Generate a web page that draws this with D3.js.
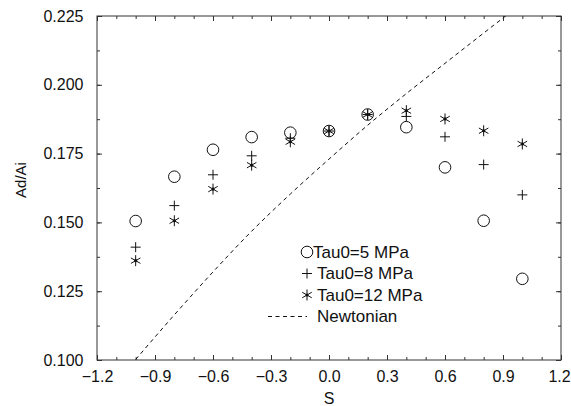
<!DOCTYPE html>
<meta charset="utf-8">
<script src="https://d3js.org/d3.v7.min.js"></script>
<style type="text/css">
body { margin: 0; background: #fff; }
svg { display: block; font-family: "Liberation Sans", Arial, sans-serif; }
.axis text { font-size: 16px; fill: #111; }
.axis line { stroke: #333; stroke-width: 1; }
.axis .domain { display: none; }
</style>
<body></body>
<script>

// data
var sValues   = [-1.0, -0.8, -0.6, -0.4, -0.2, 0.0, 0.2, 0.4, 0.6, 0.8, 1.0];
var tau5      = [0.1505, 0.1666, 0.1764, 0.1810, 0.1826, 0.1832, 0.1892, 0.1846, 0.1700, 0.1506, 0.1295];
var tau8      = [0.1410, 0.1561, 0.1673, 0.1742, 0.1806, 0.1832, 0.1892, 0.1885, 0.1811, 0.1710, 0.1600];
var tau12     = [0.1361, 0.1506, 0.1621, 0.1708, 0.1793, 0.1832, 0.1892, 0.1906, 0.1876, 0.1833, 0.1785];
var newtonian = [0.1002, 0.1164, 0.1320, 0.1468, 0.1603, 0.1730, 0.1853, 0.1968, 0.2078, 0.2188, 0.2297];

var xTicks = [-1.2, -0.9, -0.6, -0.3, 0.0, 0.3, 0.6, 0.9, 1.2];
var yTicks = [0.100, 0.125, 0.150, 0.175, 0.200, 0.225];
var legendLabels = ["Tau0=5 MPa", "Tau0=8 MPa", "Tau0=12 MPa", "Newtonian"];

var margin = {top: 16, right: 10, bottom: 46, left: 97};
var width = 571 - margin.left - margin.right,
    height = 406 - margin.top - margin.bottom;

var svgRoot = d3.select("body").append("svg")
    .attr("width", 571)
    .attr("height", 406);

var svg = svgRoot.append("g")
    .attr("transform", `translate(${margin.left}, ${margin.top})`);

var xScale = d3.scaleLinear().domain([-1.2, 1.2]).range([0, width]);
var yScale = d3.scaleLinear().domain([0.100, 0.225]).range([height, 0]);

var xMinor = d3.range(-12, 13).map(d => d / 10);
var yMinor = d3.range(0, 11).map(d => 0.100 + d * 0.0125);

// minor ticks on all four sides
svg.append("g").attr("class", "axis")
  .attr("transform", `translate(0,${height})`)
  .call(d3.axisBottom(xScale).tickValues(xMinor).tickSize(-3).tickSizeOuter(0).tickFormat(""));
svg.append("g").attr("class", "axis")
  .call(d3.axisTop(xScale).tickValues(xMinor).tickSize(-3).tickSizeOuter(0).tickFormat(""));
svg.append("g").attr("class", "axis")
  .call(d3.axisLeft(yScale).tickValues(yMinor).tickSize(-3).tickSizeOuter(0).tickFormat(""));
svg.append("g").attr("class", "axis")
  .attr("transform", `translate(${width},0)`)
  .call(d3.axisRight(yScale).tickValues(yMinor).tickSize(-3).tickSizeOuter(0).tickFormat(""));

// major ticks with labels
var xAxisGroup = svg.append("g").attr("class", "axis")
  .attr("transform", `translate(0,${height})`)
  .call(d3.axisBottom(xScale).tickValues(xTicks).tickSize(-5).tickSizeOuter(0)
    .tickPadding(10.5).tickFormat(d3.format(".1f")));
// keep the last label inside the window
xAxisGroup.selectAll(".tick text").filter(d => d === 1.2).attr("dx", -2);

svg.append("g").attr("class", "axis")
  .call(d3.axisLeft(yScale).tickValues(yTicks).tickSize(-5).tickSizeOuter(0)
    .tickPadding(13.5).tickFormat(d3.format(".3f")));
svg.append("g").attr("class", "axis")
  .call(d3.axisTop(xScale).tickValues(xTicks).tickSize(-5).tickSizeOuter(0).tickFormat(""));
svg.append("g").attr("class", "axis")
  .attr("transform", `translate(${width},0)`)
  .call(d3.axisRight(yScale).tickValues(yTicks).tickSize(-5).tickSizeOuter(0).tickFormat(""));

// frame
svg.append("rect")
  .attr("width", width).attr("height", height)
  .attr("fill", "none").attr("stroke", "#333").attr("stroke-width", 1);

// axis titles
svg.append("text")
  .attr("x", xScale(0)).attr("y", height + 44)
  .attr("text-anchor", "middle").style("font-size", "16px").attr("fill", "#111")
  .text("S");
svg.append("text")
  .attr("transform", `translate(${26 - margin.left},${yScale(0.1625) - 8}) rotate(-90)`)
  .attr("text-anchor", "middle").style("font-size", "15px").attr("fill", "#111")
  .text("Ad/Ai");

// newtonian dashed line
svg.append("clipPath").attr("id", "clip")
  .append("rect").attr("width", width).attr("height", height);

var line = d3.line()
  .x((d, i) => xScale(sValues[i]))
  .y(d => yScale(d))
  .curve(d3.curveMonotoneX);

svg.append("path")
  .datum(newtonian)
  .attr("clip-path", "url(#clip)")
  .attr("d", line)
  .attr("fill", "none")
  .attr("stroke", "#111")
  .attr("stroke-width", 1)
  .attr("stroke-dasharray", "4,3.5");

// marker drawers
function drawCircle(g) {
  g.append("circle").attr("r", 5.8)
    .attr("fill", "none").attr("stroke", "#111").attr("stroke-width", 1);
}
function drawPlus(g) {
  g.append("path").attr("d", "M-5,0H5M0,-5V5")
    .attr("fill", "none").attr("stroke", "#111").attr("stroke-width", 1);
}
function drawStar(g) {
  var r = 5.5, a = r * Math.cos(Math.PI / 6), b = r * Math.sin(Math.PI / 6);
  g.append("path").attr("d", `M0,${-r}V${r}M${-a},${-b}L${a},${b}M${-a},${b}L${a},${-b}`)
    .attr("fill", "none").attr("stroke", "#111").attr("stroke-width", 1);
  g.append("circle").attr("r", 1.6).attr("fill", "#111");
}

var series = [
  {values: tau5, draw: drawCircle},
  {values: tau8, draw: drawPlus},
  {values: tau12, draw: drawStar}
];

series.forEach(function(s) {
  svg.append("g").selectAll("g")
    .data(s.values)
    .enter().append("g")
    .attr("transform", (d, i) => `translate(${xScale(sValues[i])},${yScale(d)})`)
    .each(function() { s.draw(d3.select(this)); });
});

// legend
var legend = svgRoot.append("g").attr("transform", "translate(307, 252)");
legendLabels.forEach(function(label, i) {
  var row = legend.append("g").attr("transform", `translate(0, ${i * 21.5})`);
  if (i < 3) {
    series[i].draw(row);
  } else {
    row.append("line").attr("x1", -39).attr("x2", 0).attr("y1", 0).attr("y2", 0)
      .attr("stroke", "#111").attr("stroke-width", 1).attr("stroke-dasharray", "4,3.5");
  }
  row.append("text")
    .attr("x", i === 0 ? 6 : 10).attr("y", 5.8)
    .style("font-size", "17px").attr("fill", "#111")
    .text(label);
});

</script>
